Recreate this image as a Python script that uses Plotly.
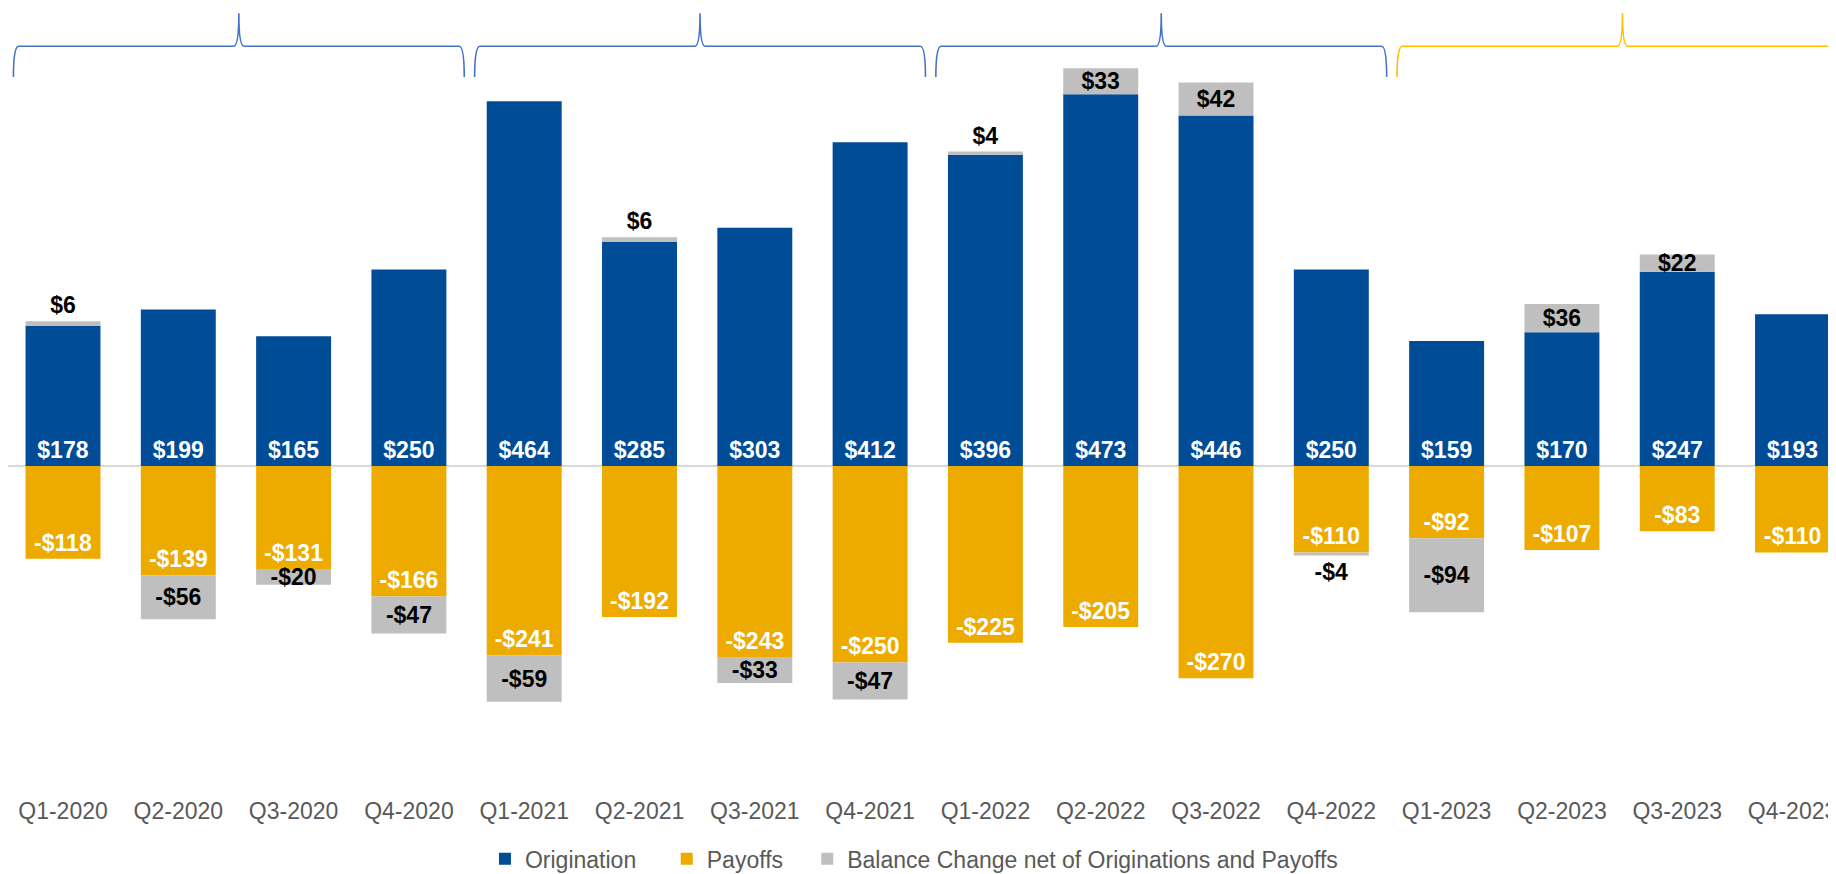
import plotly.graph_objects as go

quarters = ["Q1-2020", "Q2-2020", "Q3-2020", "Q4-2020",
            "Q1-2021", "Q2-2021", "Q3-2021", "Q4-2021",
            "Q1-2022", "Q2-2022", "Q3-2022", "Q4-2022",
            "Q1-2023", "Q2-2023", "Q3-2023", "Q4-2023"]
origination = [178, 199, 165, 250, 464, 285, 303, 412, 396, 473, 446, 250, 159, 170, 247, 193]
payoffs = [-118, -139, -131, -166, -241, -192, -243, -250, -225, -205, -270, -110, -92, -107, -83, -110]
balance_change = [6, -56, -20, -47, -59, 6, -33, -47, 4, 33, 42, -4, -94, 36, 22, None]

BLUE = "#004C97"
GOLD = "#EDAB00"
GRAY = "#BFBFBF"
FONT = "Liberation Sans, Arial, sans-serif"
NB = "\u00a0"

def money(v):
    if v is None:
        return ""
    return ("-$" if v < 0 else "$") + str(abs(v))

x = list(range(len(quarters)))
label_font = dict(family=FONT, size=23)

fig = go.Figure()
fig.add_trace(go.Bar(
    x=x, y=origination, name="Origination" + NB * 4, marker=dict(color=BLUE, line=dict(width=0)),
    text=[money(v) for v in origination], textposition="inside", insidetextanchor="start",
    textfont=dict(color="white", **label_font), texttemplate="<b>%{text}</b>", hoverinfo="skip"))
fig.add_trace(go.Bar(
    x=x, y=payoffs, name="Payoffs" + NB * 3, marker=dict(color=GOLD, line=dict(width=0)),
    text=[money(v) for v in payoffs], textposition="inside", insidetextanchor="end",
    textfont=dict(color="white", **label_font), texttemplate="<b>%{text}</b>", hoverinfo="skip"))
small = {0, 5, 8, 11}
fig.add_trace(go.Bar(
    x=x, y=balance_change, name="Balance Change net of Originations and Payoffs",
    marker=dict(color=GRAY, line=dict(width=0)),
    text=[money(v) for v in balance_change],
    textposition=["outside" if i in small else "inside" for i in x], insidetextanchor="middle",
    textfont=dict(color="black", **label_font), outsidetextfont=dict(color="black", **label_font),
    texttemplate="<b>%{text}</b>", cliponaxis=False, hoverinfo="skip"))

# braces over each year
def brace(x0, x1, xm, d=0.045):
    yl, ye, yp = 534, 495, 576
    return (f"M {x0},{ye} Q {x0},{yl} {x0+d},{yl} L {xm-d},{yl} "
            f"Q {xm},{yl} {xm},{yp} Q {xm},{yl} {xm+d},{yl} "
            f"L {x1-d},{yl} Q {x1},{yl} {x1},{ye}")

shapes = []
brace_colors = ["#4472C4", "#4472C4", "#4472C4", "#FFC000"]
for k, c in enumerate(brace_colors):
    b = 4 * k
    shapes.append(dict(type="path", xref="x", yref="y",
                       path=brace(b - 0.43, b + 3.48, b + 1.525),
                       line=dict(color=c, width=1.6)))

fig.update_layout(
    width=1828, height=866,
    margin=dict(l=0, r=0, t=0, b=79, autoexpand=False),
    barmode="relative", bargap=0.35,
    plot_bgcolor="white", paper_bgcolor="white",
    uniformtext=dict(mode="show", minsize=23),
    shapes=shapes,
    showlegend=True,
    legend=dict(orientation="h", xref="container", yref="container",
                x=0.4956, xanchor="center", y=0.0175, yanchor="middle",
                font=dict(family=FONT, size=23, color="#595959"),
                traceorder="normal"),
    xaxis=dict(tickmode="array", tickvals=x, ticktext=quarters, range=[-0.477, 15.377],
               showgrid=False, zeroline=False, showline=False, ticks="", automargin=False,
               ticklabeloverflow="allow",
               tickfont=dict(family=FONT, size=23, color="#595959")),
    yaxis=dict(range=[-418.6, 582.7], showgrid=False, showticklabels=False, zeroline=True,
               zerolinecolor="#D9D9D9", zerolinewidth=2, fixedrange=True, automargin=False),
)

fig.write_html("out.html")
